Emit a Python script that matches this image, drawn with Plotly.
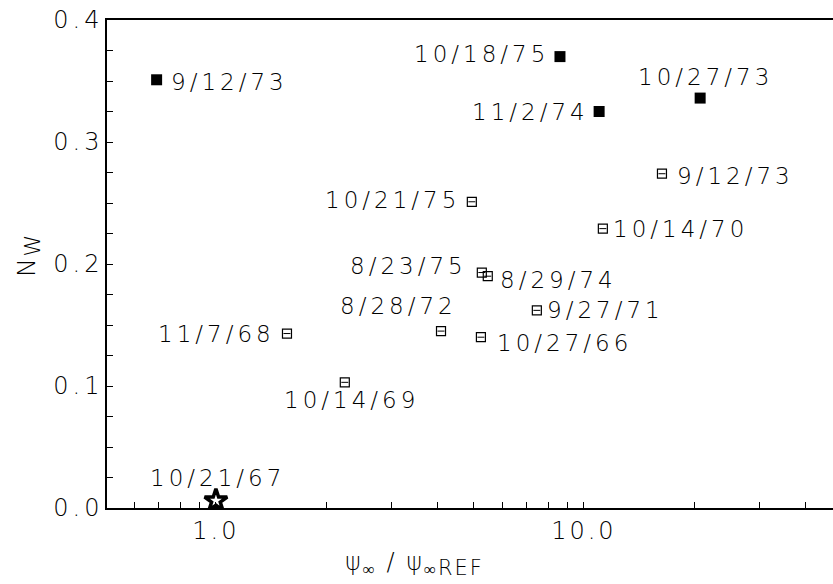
import math
import plotly.graph_objects as go

# ---- data ----
filled_labels = ["9/12/73", "10/18/75", "11/2/74", "10/27/73"]
filled_x = [0.69, 8.61, 11.0, 20.7]
filled_y = [0.351, 0.370, 0.325, 0.336]

open_labels = ["9/12/73", "10/21/75", "10/14/70", "8/23/75", "8/29/74",
               "9/27/71", "8/28/72", "10/27/66", "11/7/68", "10/14/69"]
open_x = [16.3, 4.96, 11.26, 5.28, 5.48, 7.45, 4.09, 5.25, 1.56, 2.24]
open_y = [0.274, 0.251, 0.229, 0.193, 0.190, 0.162, 0.145, 0.140, 0.143, 0.103]

star_labels = ["10/21/67"]
star_x = [1.0]
star_y = [0.006]

x_tickvals = [1, 10]
x_ticktext = ["1.0", "10.0"]
x_minorvals = [0.6, 0.7, 0.8, 0.9, 2, 3, 4, 5, 6, 7, 8, 9, 20, 30, 40]
y_tickvals = [0.0, 0.1, 0.2, 0.3, 0.4]
y_ticktext = ["0.0", "0.1", "0.2", "0.3", "0.4"]

# ---- label placement (styling): (xanchor, xshift, yshift) ----
filled_pos = [("left", 12, -2), ("right", -9, 3), ("right", -8, 0), ("center", 5, 21)]
open_pos = [("left", 13, -2), ("right", -10, 2), ("left", 8, 0), ("right", -13, 7),
            ("left", 10, -4), ("left", 8, 0), ("right", 18, 25), ("left", 14, -6),
            ("right", -10, 0), ("center", 7, -18)]
star_pos = [("center", 2, 23)]

FONT = "DejaVu Sans"
LS = "letter-spacing:4px"


def spaced(t, ls=LS):
    return "<span style='%s'>%s</span>" % (ls, t)


fig = go.Figure()
fig.add_trace(go.Scatter(x=filled_x, y=filled_y, mode="markers",
                         marker=dict(symbol="square", size=11, color="black"),
                         showlegend=False))
fig.add_trace(go.Scatter(x=open_x, y=open_y, mode="markers",
                         marker=dict(symbol="square-open", size=9, color="black",
                                     line=dict(width=1.2, color="black")),
                         showlegend=False))
fig.add_trace(go.Scatter(x=open_x, y=open_y, mode="markers",
                         marker=dict(symbol="line-ew", size=5, color="black",
                                     line=dict(width=1, color="black")),
                         showlegend=False))
fig.add_trace(go.Scatter(x=star_x, y=star_y, mode="markers",
                         marker=dict(symbol="star-open", size=17, color="black",
                                     line=dict(width=3.5, color="black")),
                         showlegend=False))

for labels, xs, ys, pos in [(filled_labels, filled_x, filled_y, filled_pos),
                            (open_labels, open_x, open_y, open_pos),
                            (star_labels, star_x, star_y, star_pos)]:
    for t, x, y, p in zip(labels, xs, ys, pos):
        fig.add_annotation(x=math.log10(x), y=y, xref="x", yref="y",
                           text=spaced(t), showarrow=False,
                           xanchor=p[0], yanchor="middle", xshift=p[1], yshift=p[2],
                           font=dict(family=FONT, size=23, color="black", weight=200))

# axis titles
fig.add_annotation(xref="paper", yref="paper", x=0.423, y=-0.115,
                   text=spaced("ψ<sub>∞</sub> / ψ<sub>∞<span style='font-size:21px'>REF</span></sub>",
                               "letter-spacing:2px"),
                   showarrow=False, xanchor="center", yanchor="middle",
                   font=dict(family=FONT, size=24, color="black", weight=200))
fig.add_annotation(xref="paper", yref="paper", x=-0.109, y=0.518,
                   text=spaced("N<sub><span style='font-size:22px'>W</span></sub>",
                               "letter-spacing:2px"), textangle=-90,
                   showarrow=False, xanchor="center", yanchor="middle",
                   font=dict(family=FONT, size=25, color="black", weight=200))

fig.update_xaxes(type="log", range=[-0.296, 1.677],
                 tickvals=x_tickvals,
                 ticktext=[spaced(t, "letter-spacing:3px") for t in x_ticktext],
                 ticks="inside", ticklen=6, tickwidth=1, tickcolor="black",
                 minor=dict(tickmode="array", tickvals=x_minorvals, ticks="inside",
                            ticklen=6, tickwidth=1, tickcolor="black", showgrid=False),
                 showline=True, linecolor="black", linewidth=1.5, mirror=True,
                 showgrid=False, zeroline=False,
                 tickfont=dict(family=FONT, size=24, color="black", weight=200))
fig.update_yaxes(range=[0, 0.4], tickvals=y_tickvals,
                 ticktext=[spaced(t, "letter-spacing:4px") for t in y_ticktext],
                 ticks="inside", ticklen=6, tickwidth=1, tickcolor="black",
                 minor=dict(dtick=0.025, ticks="inside", ticklen=6, tickwidth=1,
                            tickcolor="black", showgrid=False),
                 showline=True, linecolor="black", linewidth=1.5, mirror=False,
                 showgrid=False, zeroline=False, ticklabelstandoff=-3,
                 tickfont=dict(family=FONT, size=24, color="black", weight=200))

fig.update_layout(width=833, height=584, margin=dict(l=107, r=0, t=20, b=76),
                  plot_bgcolor="white", paper_bgcolor="white", showlegend=False)

fig.write_html("out.html", config={"displayModeBar": False},
               post_script="document.body.style.margin='0';document.body.style.overflow='hidden';")
